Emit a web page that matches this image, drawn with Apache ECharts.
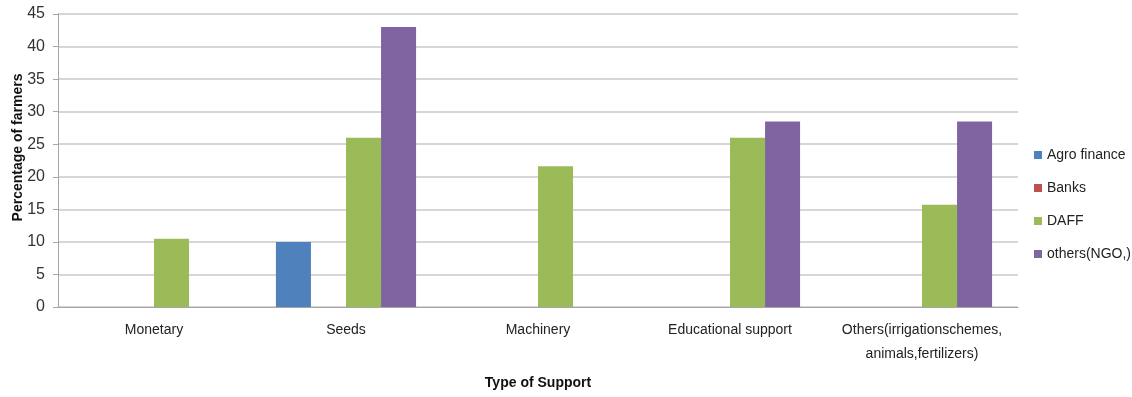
<!DOCTYPE html>
<html>
<head>
<meta charset="utf-8">
<script src="https://cdn.jsdelivr.net/npm/echarts@6/dist/echarts.min.js"></script>
<style>
  html, body { margin: 0; padding: 0; background: #fff; }
  #chart { width: 1132px; height: 397px; }
</style>
</head>
<body>
<div id="chart"></div>
<script>
var categories = ['Monetary', 'Seeds', 'Machinery', 'Educational support', 'Others(irrigationschemes,\nanimals,fertilizers)'];
var agroFinance = [0, 10, 0, 0, 0];
var banks = [0, 0, 0, 0, 0];
var daff = [10.5, 26, 21.6, 26, 15.7];
var others = [0, 43, 0, 28.5, 28.5];
var yTicks = { min: 0, max: 45, step: 5 };

var font = "'Liberation Sans', sans-serif";

var chart = echarts.init(document.getElementById('chart'));
var option = {
    animation: false,
    textStyle: { fontFamily: font },
    grid: { left: 58, right: 114, top: 14, bottom: 90, outerBoundsMode: 'none', containLabel: false },
    legend: {
        orient: 'vertical',
        left: 1029,
        top: 143,
        itemWidth: 8,
        itemHeight: 8,
        itemGap: 19,
        icon: 'rect',
        textStyle: { fontSize: 14, color: '#222', fontFamily: font },
        data: ['Agro finance', 'Banks', 'DAFF', 'others(NGO,)']
    },
    xAxis: {
        type: 'category',
        data: categories,
        name: 'Type of Support',
        nameLocation: 'middle',
        nameGap: 69,
        nameMoveOverlap: false,
        nameTextStyle: { fontSize: 14, fontWeight: 'bold', color: '#111', fontFamily: font },
        axisLine: { lineStyle: { color: '#a6a6a6' } },
        axisTick: { show: false },
        axisLabel: { fontSize: 14, color: '#222', margin: 11, lineHeight: 24, interval: 0 }
    },
    yAxis: {
        type: 'value',
        min: yTicks.min,
        max: yTicks.max,
        interval: yTicks.step,
        name: 'Percentage of farmers',
        nameLocation: 'middle',
        nameGap: 33,
        nameMoveOverlap: false,
        nameTextStyle: { fontSize: 14, fontWeight: 'bold', color: '#111', fontFamily: font, padding: [0, 0, 0, 26] },
        axisLine: { show: true, lineStyle: { color: '#a6a6a6' } },
        axisTick: { show: true, length: 5, lineStyle: { color: '#a6a6a6' } },
        axisLabel: { fontSize: 16, color: '#333', margin: 13 },
        splitLine: { lineStyle: { color: '#c8c8c8', width: 1.5 } }
    },
    series: [
        { name: 'Agro finance', type: 'bar', data: agroFinance, itemStyle: { color: '#4F81BD' }, barGap: '0%', barCategoryGap: '27%' },
        { name: 'Banks', type: 'bar', data: banks, itemStyle: { color: '#C0504D' } },
        { name: 'DAFF', type: 'bar', data: daff, itemStyle: { color: '#9BBB59' } },
        { name: 'others(NGO,)', type: 'bar', data: others, itemStyle: { color: '#8064A2' } }
    ]
};
chart.setOption(option);
</script>
</body>
</html>
